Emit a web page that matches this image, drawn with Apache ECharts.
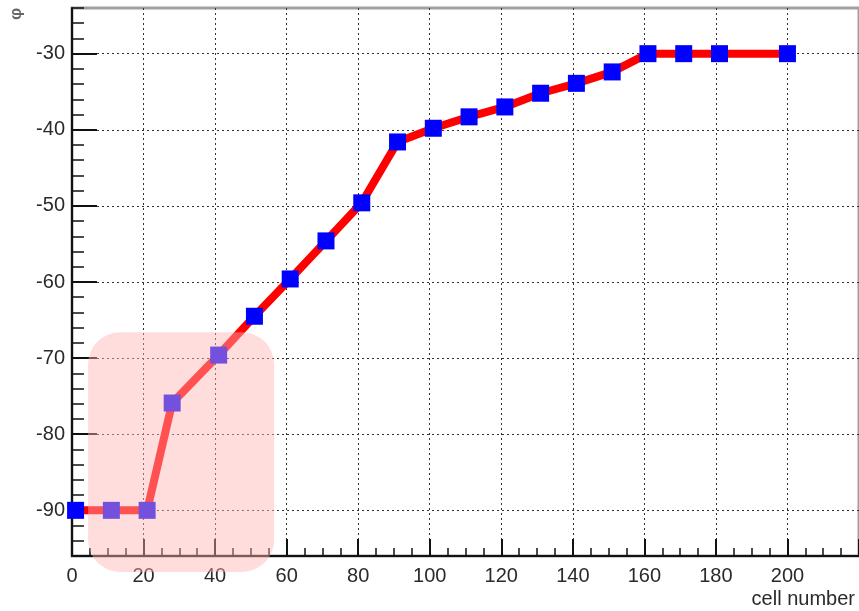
<!DOCTYPE html>
<html><head><meta charset="utf-8">
<script src="https://cdn.jsdelivr.net/npm/echarts@6.0.0/dist/echarts.min.js"></script>
<style>html,body{margin:0;padding:0;background:#fff}#c{width:859px;height:611px}</style>
</head><body><div id="c"></div>
<script>
// ---- data ----
const cellNumber = [1, 11, 21, 28, 41, 51, 61, 71, 81, 91, 101, 111, 121, 131, 141, 151, 161, 171, 181, 200];
const phiValues = [-90, -90, -90, -75.9, -69.6, -64.5, -59.6, -54.6, -49.6, -41.6, -39.8, -38.3, -37.0, -35.2, -33.9, -32.4, -30, -30, -30, -30];
const yTickValues = [-90, -80, -70, -60, -50, -40, -30];
const xAxisTitle = 'cell number';
const yAxisTitle = 'φ';
// highlighted region in data coordinates: [xStart, xEnd], [yTop, yBottom]
const highlightX = [4.5, 56.5];
const highlightY = [-66.6, -98.1];

const font = '"Liberation Sans", Arial, sans-serif';
const ink = '#111';
const gridLine = {show: true, lineStyle: {color: '#333', type: [2, 3], width: 1}};

const chart = echarts.init(document.getElementById('c'));
const option = {
  animation: false,
  backgroundColor: '#fff',
  grid: {left: 72, top: 8, right: -3, bottom: 55, show: true, borderColor: '#a0a0a0', borderWidth: 3, backgroundColor: '#fff'},
  xAxis: {
    type: 'value', min: 0, max: 220, interval: 20,
    axisLine: {show: true, onZero: false, lineStyle: {color: ink, width: 2}},
    axisTick: {show: true, inside: true, length: 17, lineStyle: {color: ink, width: 2}},
    minorTick: {show: true, splitNumber: 4, length: 8, lineStyle: {color: ink, width: 1.5}},
    axisLabel: {margin: 10, fontSize: 20, color: '#2a2a2a', fontFamily: font, showMaxLabel: false,
      formatter: v => (v > 200 ? '' : String(v))},
    splitLine: gridLine
  },
  yAxis: [
    {
      type: 'value', min: -96, max: -24,
      axisLine: {show: true, onZero: false, lineStyle: {color: ink, width: 2}},
      axisTick: {show: true, inside: true, length: 25, customValues: yTickValues, lineStyle: {color: ink, width: 2}},
      axisLabel: {margin: 7, fontSize: 20, color: '#2a2a2a', fontFamily: font, customValues: yTickValues},
      splitLine: gridLine
    },
    {
      type: 'value', min: -96, max: -24, interval: 2, position: 'left',
      axisLine: {show: false},
      axisTick: {show: true, inside: true, length: 12, lineStyle: {color: ink, width: 1.5}},
      axisLabel: {show: false},
      splitLine: {show: false}
    }
  ],
  series: [{
    type: 'line',
    data: cellNumber.map((x, i) => [x, phiValues[i]]),
    yAxisIndex: 0,
    symbol: 'rect', symbolSize: 17,
    itemStyle: {color: '#0000ff'},
    lineStyle: {color: '#ff0000', width: 8},
    z: 3
  }]
};
chart.setOption(option);

const p1 = chart.convertToPixel({seriesIndex: 0}, [highlightX[0], highlightY[0]]);
const p2 = chart.convertToPixel({seriesIndex: 0}, [highlightX[1], highlightY[1]]);
chart.setOption({
  graphic: [
    {type: 'rect', silent: true, z: 100,
      shape: {x: p1[0], y: p1[1], width: p2[0] - p1[0], height: p2[1] - p1[1], r: 32},
      style: {fill: 'rgba(255,180,180,0.45)'}},
    {type: 'text', right: 4, bottom: 2, z: 50,
      style: {text: xAxisTitle, font: '20px "Liberation Sans", Arial, sans-serif', fill: '#2a2a2a'}},
    {type: 'text', x: 16, y: 14, rotation: Math.PI / 2, z: 50,
      style: {text: yAxisTitle, font: 'bold 17px "Liberation Sans", Arial, sans-serif', fill: '#666', align: 'center', verticalAlign: 'middle'}}
  ]
});
</script>
</body></html>
